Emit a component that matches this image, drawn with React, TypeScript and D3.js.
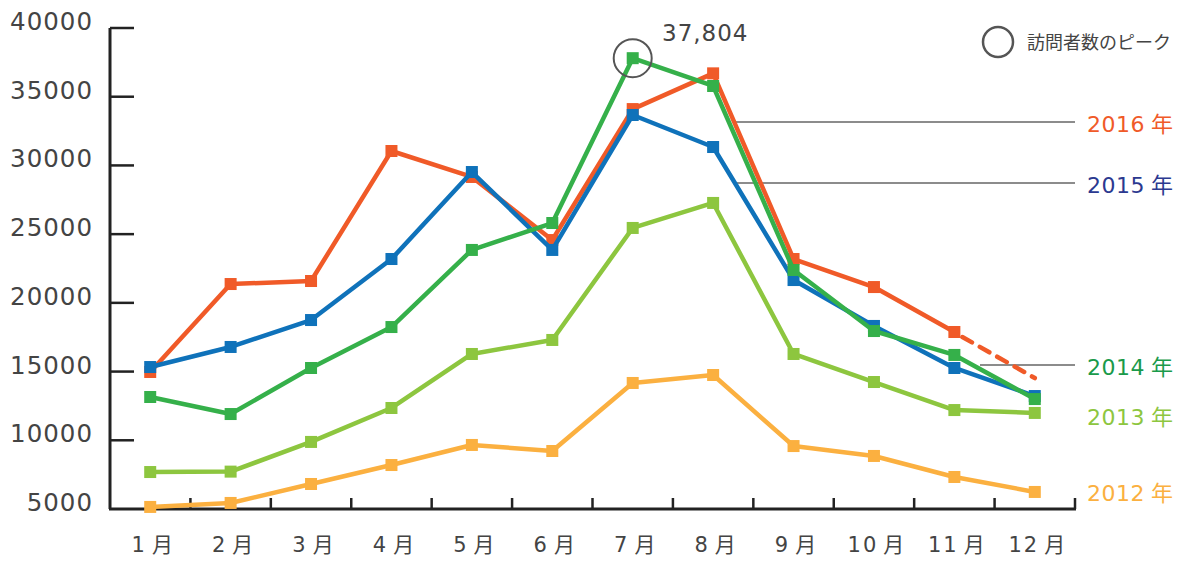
import React from "react";
import * as d3 from "d3";

const months = ["1月", "2月", "3月", "4月", "5月", "6月", "7月", "8月", "9月", "10月", "11月", "12月"];
const yTicks = [5000, 10000, 15000, 20000, 25000, 30000, 35000, 40000];

const v2012 = [5150, 5440, 6820, 8200, 9660, 9220, 14170, 14750, 9580, 8860, 7330, 6240];
const v2013 = [7690, 7720, 9880, 12350, 16280, 17300, 25450, 27270, 16280, 14240, 12200, 11990];
const v2014 = [13150, 11910, 15260, 18240, 23850, 25810, 37804, 35780, 22390, 17950, 16210, 13000];
const v2015 = [15330, 16790, 18750, 23190, 29520, 23850, 33670, 31340, 21660, 18320, 15260, 13220];
const v2016 = [14970, 21370, 21590, 31050, 29160, 24570, 34100, 36700, 23190, 21150, 17880];
const v2016est = 14530; // 12月 estimate (dashed)

const series = [
  { name: "2012", values: v2012, color: "#fbb040", label: "#fbb040", ly: 492, lineFrom: null },
  { name: "2013", values: v2013, color: "#8dc63f", label: "#8dc63f", ly: 416, lineFrom: null },
  { name: "2016", values: v2016, color: "#f05a28", label: "#f05a28", ly: 123, lineFrom: 735 },
  { name: "2015", values: v2015, color: "#0f72ba", label: "#2b3990", ly: 184, lineFrom: 735 },
  { name: "2014", values: v2014, color: "#35b04a", label: "#1a9a4a", ly: 366, lineFrom: 980 },
];

const W = 1185;
const H = 561;
const left = 110;
const right = 1075;
const top = 28;
const bottom = 509;

export default function App() {
  const x = d3.scaleBand<string>().domain(months).range([left, right]);
  const y = d3.scaleLinear().domain([5000, 40000]).range([bottom, top]);
  const cx = (i: number) => (x(months[i]) as number) + x.bandwidth() / 2;
  const line = d3
    .line<number>()
    .x((_, i) => cx(i))
    .y((d) => y(d));

  const peakIdx = v2014.indexOf(d3.max(v2014) as number);
  const peakX = cx(peakIdx);
  const peakY = y(v2014[peakIdx]);
  const numFont = "'DejaVu Sans', sans-serif";
  const jpFont = "'Noto Sans CJK JP', sans-serif";

  return (
    <svg
      width={W}
      height={H}
      style={{ position: "absolute", left: 0, top: 0, background: "#fff" }}
    >
      {/* y axis */}
      <line x1={left} x2={left} y1={top} y2={bottom} stroke="#222" strokeWidth={3} />
      {yTicks.map((t) => (
        <g key={t}>
          {t !== 5000 && (
            <line x1={left} x2={left + 24} y1={y(t)} y2={y(t)} stroke="#222" strokeWidth={2.5} />
          )}
          <text
            x={93}
            y={y(t) + 2}
            textAnchor="end"
            fontFamily={numFont}
            fontSize={24.5}
            fill="#444"
            letterSpacing={1}
          >
            {t}
          </text>
        </g>
      ))}

      {/* x axis */}
      <line x1={left - 1} x2={right + 1} y1={bottom} y2={bottom} stroke="#222" strokeWidth={3} />
      {months.map((m, i) => (
        <g key={m}>
          <line
            x1={(x(m) as number) + x.bandwidth()}
            x2={(x(m) as number) + x.bandwidth()}
            y1={bottom}
            y2={bottom - 11}
            stroke="#222"
            strokeWidth={2.5}
          />
          <text
            x={cx(i) + 2}
            y={552}
            textAnchor="middle"
            fontFamily={jpFont}
            fontSize={21}
            fill="#444"
          >
            <tspan fontFamily={numFont} letterSpacing={2}>{m.replace("月", "")}</tspan>
            <tspan dx={5}>月</tspan>
          </text>
        </g>
      ))}

      {/* leader lines */}
      {series
        .filter((s) => s.lineFrom !== null)
        .map((s) => (
          <line
            key={s.name + "l"}
            x1={s.lineFrom as number}
            x2={right}
            y1={s.ly - 1}
            y2={s.ly - 1}
            stroke="#666"
            strokeWidth={1.3}
          />
        ))}

      {/* series */}
      {series.map((s) => (
        <g key={s.name}>
          <path d={line(s.values) as string} fill="none" stroke={s.color} strokeWidth={4.5} strokeLinejoin="round" />
          {s.values.map((v, i) => (
            <rect key={i} x={cx(i) - 6} y={y(v) - 6} width={12} height={12} fill={s.color} />
          ))}
        </g>
      ))}
      <line
        x1={cx(10) + 8}
        y1={y(v2016[10]) + 5}
        x2={cx(11)}
        y2={y(v2016est)}
        stroke="#f05a28"
        strokeWidth={4.5}
        strokeDasharray="11 9"
        strokeLinecap="round"
      />

      {/* right labels */}
      {series.map((s) => (
        <text
          key={s.name + "t"}
          x={1087}
          y={s.ly + 9}
          fontFamily={numFont}
          fontSize={22}
          fill={s.label}
          letterSpacing={0.5}
        >
          {s.name}
          <tspan dx={6} fontFamily={jpFont}>年</tspan>
        </text>
      ))}

      {/* peak annotation */}
      <circle cx={peakX} cy={peakY} r={19} fill="none" stroke="#555" strokeWidth={2} />
      <text x={662} y={41} fontFamily={numFont} fontSize={23} fill="#444" letterSpacing={1}>
        {d3.format(",")(v2014[peakIdx])}
      </text>

      {/* legend */}
      <circle cx={998} cy={42} r={15} fill="none" stroke="#555" strokeWidth={2.5} />
      <text x={1027} y={49} fontFamily={jpFont} fontSize={18} fill="#444">
        訪問者数のピーク
      </text>
    </svg>
  );
}
